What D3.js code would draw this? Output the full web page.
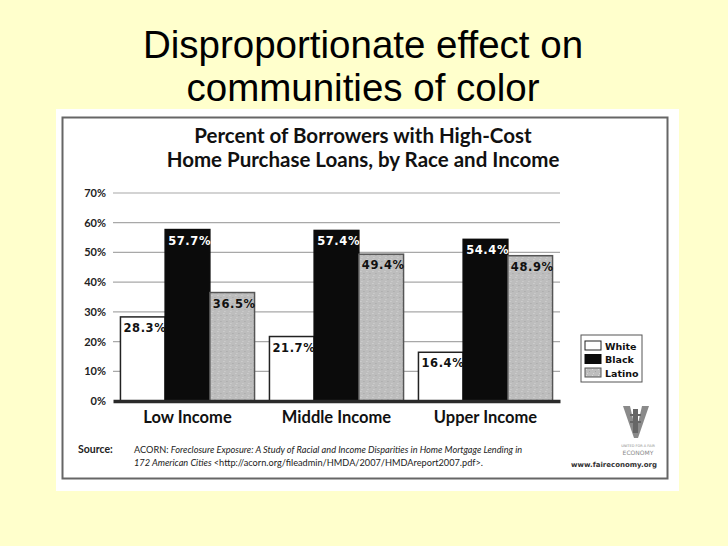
<!DOCTYPE html>
<html>
<head>
<meta charset="utf-8">
<script src="https://cdn.jsdelivr.net/npm/d3@7"></script>
<style>
  html, body { margin: 0; padding: 0; background: #FFFFCC; }
  svg { display: block; }
</style>
</head>
<body>
<svg id="c" width="728" height="546"></svg>
<script>
// ---- data ----
const categories = ["Low Income", "Middle Income", "Upper Income"];
const seriesNames = ["White", "Black", "Latino"];
const whiteValues = [28.3, 21.7, 16.4];
const blackValues = [57.7, 57.4, 54.4];
const latinoValues = [36.5, 49.4, 48.9];
const yTickValues = [0, 10, 20, 30, 40, 50, 60, 70];
const slideTitle = ["Disproportionate effect on", "communities of color"];
const chartTitle = ["Percent of Borrowers with High-Cost", "Home Purchase Loans, by Race and Income"];

const seriesValues = { White: whiteValues, Black: blackValues, Latino: latinoValues };
const rows = categories.map((c, i) => ({
  category: c,
  values: seriesNames.map(s => ({ series: s, value: seriesValues[s][i] }))
}));

const fills = { White: "#ffffff", Black: "#0b0b0b", Latino: "url(#speckle)" };
const strokes = { White: "#222", Black: "#0b0b0b", Latino: "#555" };
const labelColors = { White: "#111", Black: "#ffffff", Latino: "#111" };

const svg = d3.select("#c");

// speckled grey pattern for Latino bars
const defs = svg.append("defs");
const pat = defs.append("pattern").attr("id", "speckle").attr("patternUnits", "userSpaceOnUse")
  .attr("width", 6).attr("height", 6);
pat.append("rect").attr("width", 6).attr("height", 6).attr("fill", "#bdbdbd");
pat.append("rect").attr("x", 1).attr("y", 1).attr("width", 1).attr("height", 1).attr("fill", "#d8d8d8");
pat.append("rect").attr("x", 4).attr("y", 3).attr("width", 1).attr("height", 1).attr("fill", "#a4a4a4");
pat.append("rect").attr("x", 2).attr("y", 5).attr("width", 1).attr("height", 1).attr("fill", "#d4d4d4");

// ---- slide title ----
svg.append("g").selectAll("text").data(slideTitle).join("text")
  .attr("x", 363).attr("y", (d, i) => 58 + i * 43)
  .attr("text-anchor", "middle")
  .attr("font-family", "Liberation Sans, Arial, sans-serif")
  .attr("font-size", 38.5).attr("fill", "#000")
  .text(d => d);

// ---- white scanned panel ----
svg.append("rect").attr("x", 56).attr("y", 109).attr("width", 623).attr("height", 382).attr("fill", "#fff");
svg.append("rect").attr("x", 62.5).attr("y", 117.5).attr("width", 605).attr("height", 361)
  .attr("fill", "none").attr("stroke", "#666").attr("stroke-width", 2);

// chart title
svg.append("g").selectAll("text").data(chartTitle).join("text")
  .attr("x", 363).attr("y", (d, i) => 143 + i * 24)
  .attr("text-anchor", "middle")
  .attr("font-family", "Lato, sans-serif").attr("font-weight", "bold")
  .attr("font-size", 20.5).attr("fill", "#111")
  .text(d => d);

// ---- scales ----
const x0 = d3.scaleBand().domain(categories).range([113, 560]).paddingInner(0.1).paddingOuter(0.05);
const x1 = d3.scaleBand().domain(seriesNames).range([0, x0.bandwidth()]);
const y = d3.scaleLinear().domain([0, 70]).range([401, 193]);

// gridlines
svg.append("g").selectAll("line").data(yTickValues.filter(v => v > 0)).join("line")
  .attr("x1", 113).attr("x2", 560)
  .attr("y1", d => y(d)).attr("y2", d => y(d))
  .attr("stroke", "#a8a8a8").attr("stroke-width", 1.2);

// y axis labels
const yAxis = d3.axisLeft(y).tickValues(yTickValues).tickFormat(d => d + "%").tickSize(0).tickPadding(0);
const ya = svg.append("g").attr("transform", "translate(106,0)").call(yAxis);
ya.select(".domain").remove();
ya.selectAll("text")
  .attr("font-family", "Lato, sans-serif").attr("font-weight", "bold")
  .attr("font-size", 11).attr("fill", "#222");

// bars
const groups = svg.append("g").selectAll("g").data(rows).join("g")
  .attr("transform", d => `translate(${x0(d.category)},0)`);

groups.selectAll("rect").data(d => d.values).join("rect")
  .attr("x", d => x1(d.series))
  .attr("y", d => y(d.value))
  .attr("width", x1.bandwidth())
  .attr("height", d => y(0) - y(d.value))
  .attr("fill", d => fills[d.series])
  .attr("stroke", d => strokes[d.series])
  .attr("stroke-width", 1.5);

groups.selectAll("text").data(d => d.values).join("text")
  .attr("x", d => x1(d.series) + 3)
  .attr("y", d => y(d.value) + 15)
  .attr("font-family", "DejaVu Sans, sans-serif").attr("font-weight", "bold")
  .attr("font-size", 11.5).attr("letter-spacing", 0.6)
  .attr("fill", d => labelColors[d.series])
  .text(d => d.value.toFixed(1) + "%");

// baseline axis
const xAxis = d3.axisBottom(x0).tickSize(0).tickPadding(10);
const xa = svg.append("g").attr("transform", `translate(0,${y(0)})`).call(xAxis);
xa.select(".domain").attr("stroke", "#2a2a2a").attr("stroke-width", 3.5);
xa.selectAll("text")
  .attr("font-family", "Lato, sans-serif").attr("font-weight", "bold")
  .attr("font-size", 16.5).attr("fill", "#111");

// legend
const lg = svg.append("g").attr("transform", "translate(581,335)");
lg.append("rect").attr("width", 61).attr("height", 47).attr("fill", "#fff").attr("stroke", "#555").attr("stroke-width", 1);
const li = lg.selectAll("g").data(seriesNames).join("g")
  .attr("transform", (d, i) => `translate(4,${6 + i * 13.5})`);
li.append("rect").attr("width", 16).attr("height", 9)
  .attr("fill", d => fills[d]).attr("stroke", d => strokes[d]).attr("stroke-width", 1);
li.append("text").attr("x", 20).attr("y", 8.5)
  .attr("font-family", "DejaVu Sans, sans-serif").attr("font-weight", "bold")
  .attr("font-size", 9.5).attr("fill", "#111")
  .text(d => d);

// source
const src = svg.append("g").attr("font-family", "Lato, sans-serif").attr("fill", "#222");
src.append("text").attr("x", 78).attr("y", 453).attr("font-size", 10.5).attr("font-weight", "bold").text("Source:");
const l1 = src.append("text").attr("x", 134).attr("y", 453).attr("font-size", 9.2);
l1.append("tspan").text("ACORN: ");
l1.append("tspan").attr("font-style", "italic").text("Foreclosure Exposure: A Study of Racial and Income Disparities in Home Mortgage Lending in");
const l2 = src.append("text").attr("x", 134).attr("y", 466).attr("font-size", 9.2);
l2.append("tspan").attr("font-style", "italic").text("172 American Cities ");
l2.append("tspan").text("<http://acorn.org/fileadmin/HMDA/2007/HMDAreport2007.pdf>.");

// logo (United for a Fair Economy)
const logo = svg.append("g").attr("fill", "#8a8a8a");
logo.append("path").attr("d", "M623,406 L630,406 L636,432 L642,406 L649,406 L638,438 L634,438 Z");
logo.append("rect").attr("x", 633).attr("y", 409).attr("width", 5).attr("height", 24).attr("fill", "#666");
logo.append("rect").attr("x", 630).attr("y", 414).attr("width", 11).attr("height", 2).attr("fill", "#666");
logo.append("rect").attr("x", 630).attr("y", 421).attr("width", 11).attr("height", 2).attr("fill", "#666");
logo.append("text").attr("x", 638).attr("y", 447).attr("text-anchor", "middle")
  .attr("font-family", "DejaVu Sans, sans-serif").attr("font-size", 3.5).attr("fill", "#888")
  .text("UNITED FOR A FAIR");
logo.append("text").attr("x", 638).attr("y", 455).attr("text-anchor", "middle")
  .attr("font-family", "DejaVu Sans, sans-serif").attr("font-size", 6).attr("fill", "#888")
  .text("ECONOMY");
svg.append("text").attr("x", 614).attr("y", 467).attr("text-anchor", "middle")
  .attr("font-family", "DejaVu Sans, sans-serif").attr("font-weight", "bold")
  .attr("font-size", 7).attr("fill", "#333")
  .text("www.faireconomy.org");
</script>
</body>
</html>
